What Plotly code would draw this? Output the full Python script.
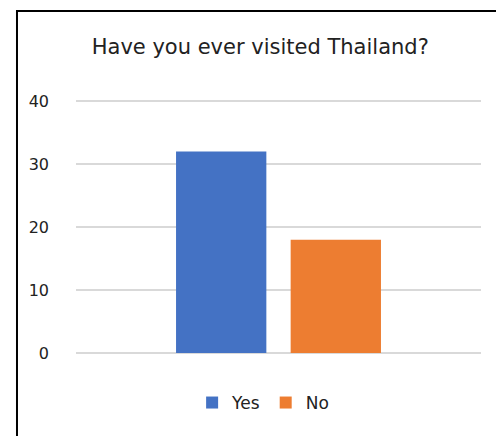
import plotly.graph_objects as go

title_text = "Have you ever visited Thailand?"
category = [""]
series_names = ["Yes", "No"]
series_values = [32, 18]
series_colors = ["#4472C4", "#ED7D31"]
y_ticks = [0, 10, 20, 30, 40]

offsets = [-0.253, 0.030]
bar_width = 0.223

fig = go.Figure()
for name, val, col, off in zip(series_names, series_values, series_colors, offsets):
    fig.add_trace(go.Bar(
        x=category, y=[val], name=name,
        marker=dict(color=col, line=dict(width=0)),
        width=bar_width, offset=off,
    ))

fig.update_layout(
    width=504, height=436,
    margin=dict(l=68, r=31, t=90, b=91),
    paper_bgcolor="white", plot_bgcolor="white",
    barmode="overlay",
    font=dict(family="DejaVu Sans", color="#222222"),
    title=dict(text=title_text, font=dict(size=21, color="#222222"),
               x=0.455, xref="paper", xanchor="center",
               y=1 - 39 / 436, yref="container", yanchor="middle"),
    showlegend=True,
    legend=dict(orientation="h", x=0.462, xanchor="center", y=-0.196, yanchor="middle",
                font=dict(size=17, color="#222222"), traceorder="normal",
                itemwidth=30),
    xaxis=dict(range=[-0.5, 0.5], showticklabels=False, showgrid=False, zeroline=False,
               showline=False, fixedrange=True),
    yaxis=dict(range=[0, 40.5], tickvals=y_ticks, showgrid=True, gridcolor="#d9d9d9",
               gridwidth=1.5, zeroline=True, zerolinecolor="#d9d9d9", zerolinewidth=1.5,
               showline=False, ticks="", ticklabelstandoff=26,
               tickfont=dict(size=16, color="#222222")),
    shapes=[dict(type="path", xref="paper", yref="paper",
                 path="M -0.1457,-0.4 L -0.1457,1.341 L 1.0469,1.341 L 1.0469,-0.4",
                 line=dict(color="black", width=2))],
)

fig.write_html("out.html")
